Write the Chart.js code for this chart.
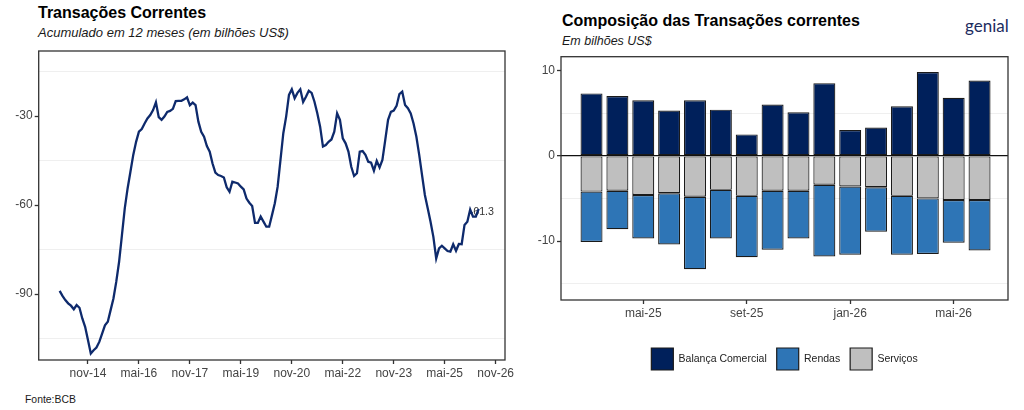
<!DOCTYPE html>
<html lang="pt-BR">
<head>
<meta charset="utf-8">
<title>Transações Correntes</title>
<script src="https://cdn.jsdelivr.net/npm/chart.js@4.4.1/dist/chart.umd.min.js"></script>
<style>
  html, body { margin: 0; padding: 0; background: #fff; }
  body { width: 1024px; height: 410px; position: relative; overflow: hidden;
         font-family: 'Liberation Sans', Arial, sans-serif; color: #000; }
  canvas { position: absolute; top: 0; }
  #chartLinha { left: 0; }
  #chartBarras { left: 520px; }
  .txt { position: absolute; white-space: nowrap; }
  .titulo { font-weight: bold; font-size: 16px; line-height: 16px; }
  .subtitulo { font-style: italic; font-size: 13px; line-height: 13px; color: #1a1a1a; }
  .fonte { font-size: 10.4px; line-height: 10.4px; color: #1a1a1a; }
  .logo { font-family: Lato, 'Noto Sans', sans-serif; font-size: 17px; line-height: 17px; color: #1d2c5e; }
</style>
</head>
<body>
<div class="txt titulo" style="left:38px; top:5px;">Transações Correntes</div>
<div class="txt subtitulo" style="left:38px; top:26px;">Acumulado em 12 meses (em bilhões US$)</div>
<div class="txt titulo" style="left:562px; top:13px;">Composição das Transações correntes</div>
<div class="txt subtitulo" style="left:562px; top:35px; font-size:12.5px;">Em bilhões US$</div>
<div class="txt logo" style="left:965px; top:17px;">genial</div>
<div class="txt fonte" style="left:25px; top:395px;">Fonte:BCB</div>

<canvas id="chartLinha" width="520" height="410"></canvas>
<canvas id="chartBarras" width="504" height="410"></canvas>

<script>
// ---------------------------------------------------------------------------
// Dados
// ---------------------------------------------------------------------------

// Transações correntes acumuladas em 12 meses (US$ bi), mensal desde jan-14
const lineStart = 'jan-14';
const lineValues = [
  -88.9, -90.6, -92.0, -93.1, -93.9, -95.1, -93.7, -94.6, -98.2, -101.0, -105.5, -110.0,
  -108.9, -108.0, -106.1, -103.3, -100.5, -99.3, -95.4, -91.5, -85.8, -79.1, -70.1, -61.1,
  -54.4, -48.8, -43.1, -38.7, -35.3, -34.4, -32.5, -30.8, -29.7, -28.0, -25.4, -30.4,
  -31.3, -30.2, -28.6, -28.3, -27.6, -25.0, -24.9, -24.9, -24.4, -23.7, -26.4, -25.5,
  -26.3, -31.9, -35.3, -37.0, -40.1, -42.0, -46.0, -49.1, -49.9, -50.2, -50.7, -54.0,
  -55.5, -52.1, -52.4, -52.7, -53.8, -54.7, -57.8, -59.2, -60.3, -66.0, -66.0, -63.9,
  -65.6, -67.3, -67.3, -63.4, -59.4, -53.8, -44.8, -35.8, -30.2, -22.9, -21.0, -24.0,
  -22.2, -21.0, -25.3, -23.5, -21.5, -22.2, -25.2, -29.1, -33.6, -40.3, -39.8, -38.7,
  -37.9, -35.3, -29.1, -31.3, -37.5, -39.2, -42.0, -47.1, -50.2, -49.3, -42.0, -41.8,
  -43.1, -45.4, -45.7, -48.4, -45.1, -47.3, -44.8, -38.1, -31.3, -28.6, -28.2, -26.6,
  -22.6, -21.8, -26.3, -27.4, -29.1, -32.5, -37.0, -43.1, -49.9, -56.6, -61.1, -65.6,
  -70.7, -78.0, -74.6, -73.7, -74.6, -75.5, -75.7, -73.2, -75.4, -73.1, -73.2, -66.7,
  -65.6, -61.5, -63.9, -63.9, -61.3
];
const lineTicks = ['nov-14', 'mai-16', 'nov-17', 'mai-19', 'nov-20', 'mai-22', 'nov-23', 'mai-25', 'nov-26'];
const lineYTicks = [-105, -90, -75, -60, -45, -30, -15];

// Composição mensal (US$ bi)
const barMonths = ['mar-25', 'abr-25', 'mai-25', 'jun-25', 'jul-25', 'ago-25', 'set-25', 'out-25',
                   'nov-25', 'dez-25', 'jan-26', 'fev-26', 'mar-26', 'abr-26', 'mai-26', 'jun-26'];
const balanca  = [7.3, 7.0, 6.5, 5.3, 6.5, 5.4, 2.5, 6.0, 5.1, 8.5, 3.0, 3.3, 5.8, 9.8, 6.8, 8.8];
const servicos = [-4.2, -4.1, -4.6, -4.4, -4.8, -4.0, -4.7, -4.1, -4.1, -3.4, -3.6, -3.7, -4.7, -5.0, -5.2, -5.2];
const rendas   = [-5.9, -4.5, -5.1, -6.0, -8.5, -5.7, -7.2, -6.9, -5.6, -8.4, -8.0, -5.2, -6.9, -6.5, -5.0, -5.9];
const barTicks = ['mai-25', 'set-25', 'jan-26', 'mai-26'];
const barYTicks = [-15, -10, -5, 0, 5, 10];
const legendOrder = ['Balança Comercial', 'Rendas', 'Serviços'];

// ---------------------------------------------------------------------------
// Utilitários
// ---------------------------------------------------------------------------
const MESES = ['jan', 'fev', 'mar', 'abr', 'mai', 'jun', 'jul', 'ago', 'set', 'out', 'nov', 'dez'];

function monthNumber(label) {
  const [m, y] = label.split('-');
  return (2000 + Number(y)) * 12 + MESES.indexOf(m);
}

const lineBase = monthNumber(lineStart);
const lastIndex = lineValues.length - 1;

Chart.defaults.font.family = "'Liberation Sans', Arial, sans-serif";
Chart.defaults.color = '#444';

const TICK_FONT = { size: 12 };
const MINOR_GRID = '#efefef';

// moldura do painel (estilo ggplot)
const panelBorder = {
  id: 'panelBorder',
  afterDraw(chart) {
    const { ctx, chartArea: a } = chart;
    ctx.save();
    ctx.strokeStyle = '#333';
    ctx.lineWidth = 1.3;
    ctx.strokeRect(a.left, a.top, a.right - a.left, a.bottom - a.top);
    ctx.restore();
  }
};

// rótulo do último valor da linha
const lastValueLabel = {
  id: 'lastValueLabel',
  beforeDatasetsDraw(chart) {
    const { ctx, scales } = chart;
    const x = scales.x.getPixelForValue(lastIndex);
    const y = scales.y.getPixelForValue(lineValues[lastIndex]);
    ctx.save();
    ctx.font = "10.7px 'Liberation Sans', Arial, sans-serif";
    ctx.fillStyle = '#333';
    ctx.textAlign = 'left';
    ctx.textBaseline = 'middle';
    ctx.fillText(lineValues[lastIndex].toFixed(1), x - 9, y + 3);
    ctx.restore();
  }
};

// ---------------------------------------------------------------------------
// Gráfico de linha
// ---------------------------------------------------------------------------
new Chart(document.getElementById('chartLinha'), {
  type: 'line',
  data: {
    datasets: [{
      data: lineValues.map((v, i) => ({ x: i, y: v })),
      borderColor: '#0e2a6c',
      borderWidth: 2.3,
      pointRadius: 0,
      tension: 0,
      fill: false
    }]
  },
  options: {
    responsive: false,
    animation: false,
    layout: { padding: { top: 51, right: 15, bottom: 0, left: 0 } },
    plugins: { legend: { display: false }, tooltip: { enabled: false } },
    scales: {
      x: {
        type: 'linear',
        min: -7.4,
        max: 157.3,
        afterBuildTicks: s => { s.ticks = lineTicks.map(t => ({ value: monthNumber(t) - lineBase })); },
        afterFit: s => { s.height = 50; },
        ticks: {
          callback: (v, i) => lineTicks[i],
          font: TICK_FONT,
          padding: 2,
          maxRotation: 0,
          autoSkip: false
        },
        grid: { drawOnChartArea: false, tickLength: 4, tickColor: '#333', tickWidth: 1.3 },
        border: { display: false }
      },
      y: {
        min: -112.2,
        max: -8.1,
        afterBuildTicks: s => { s.ticks = lineYTicks.map(v => ({ value: v })); },
        afterFit: s => { s.width = 38.7; },
        ticks: {
          callback: (v, i) => (lineYTicks[i] % 30 === 0 ? String(lineYTicks[i]) : ''),
          font: TICK_FONT,
          padding: 2,
          autoSkip: false
        },
        grid: {
          color: c => (c.tick && c.tick.value % 30 === 0 ? 'rgba(0,0,0,0)' : MINOR_GRID),
          tickColor: c => (c.tick && c.tick.value % 30 === 0 ? '#333' : 'rgba(0,0,0,0)'),
          tickLength: 4,
          tickWidth: 1.3,
          lineWidth: 1
        },
        border: { display: false }
      }
    }
  },
  plugins: [panelBorder, lastValueLabel]
});

// ---------------------------------------------------------------------------
// Gráfico de barras empilhadas
// ---------------------------------------------------------------------------
const barStyle = {
  borderColor: '#1a1a1a',
  borderWidth: 1.2,
  borderSkipped: false,
  barPercentage: 0.85,
  categoryPercentage: 1
};

new Chart(document.getElementById('chartBarras'), {
  type: 'bar',
  data: {
    datasets: [
      { label: 'Balança Comercial', data: balanca.map((v, i) => ({ x: i, y: v })), backgroundColor: '#00205b', ...barStyle },
      { label: 'Serviços', data: servicos.map((v, i) => ({ x: i, y: v })), backgroundColor: '#bfbfbf', ...barStyle },
      { label: 'Rendas', data: rendas.map((v, i) => ({ x: i, y: v })), backgroundColor: '#2e75b6', ...barStyle }
    ]
  },
  options: {
    responsive: false,
    animation: false,
    layout: { padding: { top: 56.7, right: 16, bottom: 30, left: 0 } },
    plugins: {
      tooltip: { enabled: false },
      legend: {
        position: 'bottom',
        fullSize: false,
        labels: {
          boxWidth: 22,
          boxHeight: 22,
          padding: 10,
          color: '#222',
          font: { size: 10.5 },
          sort: (a, b) => legendOrder.indexOf(a.text) - legendOrder.indexOf(b.text)
        }
      }
    },
    scales: {
      x: {
        type: 'linear',
        stacked: true,
        offset: false,
        min: -1.18,
        max: 16.1,
        afterBuildTicks: s => { s.ticks = barTicks.map(t => ({ value: barMonths.indexOf(t) })); },
        afterFit: s => { s.height = 38; },
        ticks: {
          callback: (v, i) => barTicks[i],
          font: TICK_FONT,
          padding: 2,
          maxRotation: 0,
          autoSkip: false
        },
        grid: { offset: false, drawOnChartArea: false, tickLength: 4, tickColor: '#333', tickWidth: 1.3 },
        border: { display: false }
      },
      y: {
        stacked: true,
        min: -16.9,
        max: 11.6,
        afterBuildTicks: s => { s.ticks = barYTicks.map(v => ({ value: v })); },
        afterFit: s => { s.width = 41; },
        ticks: {
          callback: (v, i) => (barYTicks[i] % 10 === 0 ? String(barYTicks[i]) : ''),
          font: TICK_FONT,
          padding: 2,
          autoSkip: false
        },
        grid: {
          color: c => {
            if (!c.tick) return MINOR_GRID;
            if (c.tick.value === 0) return '#111';
            return c.tick.value % 10 === 0 ? 'rgba(0,0,0,0)' : MINOR_GRID;
          },
          tickColor: c => (c.tick && c.tick.value % 10 === 0 ? '#333' : 'rgba(0,0,0,0)'),
          tickLength: 4,
          tickWidth: 1.3,
          lineWidth: c => (c.tick && c.tick.value === 0 ? 1.3 : 1)
        },
        border: { display: false }
      }
    }
  },
  plugins: [panelBorder]
});
</script>
</body>
</html>
